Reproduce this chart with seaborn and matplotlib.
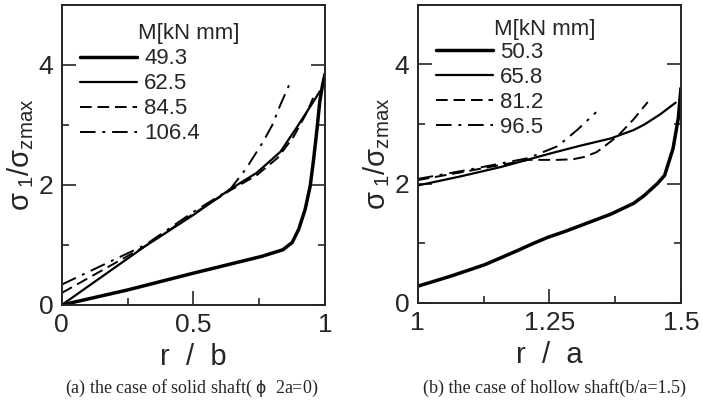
import numpy as np
import pandas as pd
import matplotlib
matplotlib.use('Agg')
import matplotlib.pyplot as plt
import seaborn as sns
from matplotlib.ticker import MultipleLocator
from matplotlib.lines import Line2D

# ── data ─────────────────────────────────────────────────────────────────
# (a) solid shaft, x = r/b
a_x_493 = [0, 0.25, 0.5, 0.76, 0.84, 0.875, 0.9, 0.925, 0.944, 0.957, 0.97, 0.98, 0.99, 1.0]
a_y_493 = [0, 0.25, 0.53, 0.81, 0.92, 1.04, 1.26, 1.6, 1.99, 2.44, 2.95, 3.39, 3.65, 3.85]
a_x_625 = [0, 0.317, 0.5, 0.64, 0.74, 0.83, 0.89, 0.94, 0.965, 0.98]
a_y_625 = [0.0, 0.98, 1.5, 1.93, 2.2, 2.55, 2.94, 3.28, 3.45, 3.56]
a_x_845 = [0, 0.317, 0.5, 0.64, 0.74, 0.82, 0.88, 0.93, 0.955]
a_y_845 = [0.2, 0.98, 1.52, 1.91, 2.16, 2.45, 2.8, 3.2, 3.45]
a_x_1064 = [0, 0.317, 0.5, 0.64, 0.7, 0.765, 0.8, 0.83, 0.867]
a_y_1064 = [0.34, 1.0, 1.55, 1.93, 2.27, 2.72, 3.0, 3.33, 3.7]

# (b) hollow shaft, x = r/a
b_x_503 = [1.0, 1.063, 1.127, 1.19, 1.22, 1.247, 1.28, 1.31, 1.367, 1.41, 1.43, 1.455, 1.469, 1.485, 1.495, 1.5]
b_y_503 = [0.28, 0.45, 0.64, 0.88, 1.0, 1.1, 1.2, 1.3, 1.49, 1.67, 1.8, 2.0, 2.14, 2.59, 3.1, 3.6]
b_x_658 = [1.0, 1.08, 1.158, 1.253, 1.31, 1.367, 1.41, 1.43, 1.46, 1.49]
b_y_658 = [1.97, 2.12, 2.28, 2.51, 2.64, 2.76, 2.9, 2.99, 3.16, 3.36]
b_x_812 = [1.0, 1.1, 1.21, 1.24, 1.266, 1.295, 1.317, 1.34, 1.355, 1.38, 1.41, 1.437]
b_y_812 = [2.06, 2.22, 2.4, 2.4, 2.4, 2.41, 2.45, 2.53, 2.63, 2.8, 3.08, 3.37]
b_x_965 = [1.0, 1.1, 1.21, 1.266, 1.304, 1.339]
b_y_965 = [2.08, 2.24, 2.43, 2.63, 2.91, 3.2]

a_labels = ['49.3', '62.5', '84.5', '106.4']
b_labels = ['50.3', '65.8', '81.2', '96.5']

styles = [('-', 2.5), ('-', 1.6), ((0, (6, 3)), 1.4), ((0, (8, 3.5, 1.5, 3.5)), 1.4)]


def to_frame(xs, ys, labels):
    parts = [pd.DataFrame({'x': x, 'y': y, 'M': lab}) for x, y, lab in zip(xs, ys, labels)]
    return pd.concat(parts, ignore_index=True)


df_a = to_frame([a_x_493, a_x_625, a_x_845, a_x_1064],
                [a_y_493, a_y_625, a_y_845, a_y_1064], a_labels)
df_b = to_frame([b_x_503, b_x_658, b_x_812, b_x_965],
                [b_y_503, b_y_658, b_y_812, b_y_965], b_labels)

sns.set_style('ticks')
plt.rcParams['font.family'] = ['Liberation Sans', 'DejaVu Sans']
plt.rcParams['mathtext.fontset'] = 'custom'
plt.rcParams['mathtext.rm'] = 'Liberation Sans'
plt.rcParams['mathtext.it'] = 'Liberation Sans'

fig = plt.figure(figsize=(7.02, 4.05), dpi=100)
ax_a = fig.add_axes([0.088, 0.247, 0.375, 0.741])
ax_b = fig.add_axes([0.595, 0.252, 0.375, 0.736])


def draw(ax, df, labels, xlim, major, minor, xlabel, ticklabels, leg_top, title_y):
    for lab, (ls, lw) in zip(labels, styles):
        sns.lineplot(data=df[df['M'] == lab], x='x', y='y', ax=ax, color='black',
                     linestyle=ls, linewidth=lw, sort=False, estimator=None, legend=False)
    ax.set_xlim(*xlim)
    ax.set_ylim(0, 5)
    ax.set_xticks(np.arange(xlim[0], xlim[1] + 1e-9, major))
    ax.set_xticklabels(ticklabels)
    ax.xaxis.set_minor_locator(MultipleLocator(minor))
    ax.yaxis.set_major_locator(MultipleLocator(2))
    ax.yaxis.set_minor_locator(MultipleLocator(1))
    ax.tick_params(which='both', direction='in', left=True, right=True, top=False,
                   labelsize=19, pad=6, width=1.2)
    ax.tick_params(which='major', length=10)
    ax.tick_params(which='minor', length=5)
    for s in ax.spines.values():
        s.set_linewidth(1.4)
    ax.set_xlabel(xlabel, fontsize=21, labelpad=4)
    ax.set_ylabel(r'$\sigma_{\ 1}/\sigma_{\rm zmax}$', fontsize=21, labelpad=2)
    handles = [Line2D([], [], color='black', linestyle=ls, linewidth=lw) for ls, lw in styles]
    ax.legend(handles, labels, loc='upper left', bbox_to_anchor=(0.068, leg_top),
              frameon=False, fontsize=16, handlelength=2.6, handletextpad=0.3,
              labelspacing=0.18, borderpad=0, borderaxespad=0)
    ax.text(0.29, title_y, 'M[kN mm]', transform=ax.transAxes, fontsize=16,
            ha='left', va='center')


draw(ax_a, df_a, a_labels, (0, 1), 0.5, 0.25, 'r  /  b', ['0', '0.5', '1'], 0.855, 0.903)
draw(ax_b, df_b, b_labels, (1, 1.5), 0.25, 0.125, 'r  /  a', ['1', '1.25', '1.5'], 0.875, 0.918)

fig.text(0.2735, 0.042, r'(a) the case of solid shaft( $\phi$  2a=0)', ha='center', va='center',
         fontsize=13, family=['Liberation Serif'])
fig.text(0.79, 0.042, '(b) the case of hollow shaft(b/a=1.5)', ha='center', va='center',
         fontsize=13, family=['Liberation Serif'])

fig.savefig('out.png', dpi=100)
